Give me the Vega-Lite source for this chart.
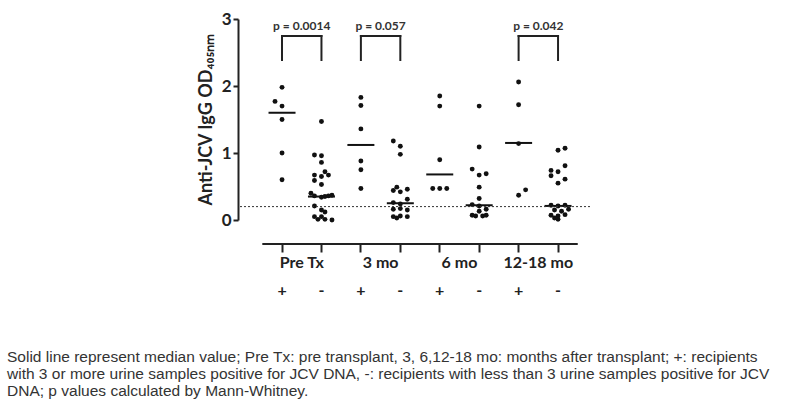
{
  "$schema": "https://vega.github.io/schema/vega-lite/v6.json",
  "width": 352,
  "height": 201,
  "autosize": "none",
  "padding": {"left": 238, "top": 19, "right": 200, "bottom": 188},
  "config": {"view": {"stroke": null}, "font": "Lato"},
  "title": {
    "text": [
      "Solid line represent median value;  Pre Tx: pre transplant,  3, 6,12-18 mo: months  after transplant;  +: recipients",
      "with 3 or more urine samples positive for JCV DNA, -: recipients with less than 3 urine samples positive for JCV",
      "DNA; p values calculated  by Mann-Whitney."
    ],
    "orient": "bottom",
    "anchor": "start",
    "frame": "group",
    "dx": -231,
    "offset": 52,
    "font": "Liberation Sans Narrow, Liberation Sans",
    "fontSize": 15.5,
    "fontWeight": "normal",
    "color": "#333333",
    "lineHeight": 17,
    "baseline": "top"
  },
  "datasets": {
    "points": [
      {"grp": "Pre Tx +", "v": 1.98, "j": 0}, {"grp": "Pre Tx +", "v": 1.77, "j": -2}, {"grp": "Pre Tx +", "v": 1.70, "j": 0},
      {"grp": "Pre Tx +", "v": 1.50, "j": 0}, {"grp": "Pre Tx +", "v": 1.00, "j": 0}, {"grp": "Pre Tx +", "v": 0.60, "j": 0},
      {"grp": "Pre Tx -", "v": 1.47, "j": 0}, {"grp": "Pre Tx -", "v": 0.97, "j": -2}, {"grp": "Pre Tx -", "v": 0.96, "j": 0},
      {"grp": "Pre Tx -", "v": 0.86, "j": 0}, {"grp": "Pre Tx -", "v": 0.72, "j": 1}, {"grp": "Pre Tx -", "v": 0.67, "j": -2},
      {"grp": "Pre Tx -", "v": 0.65, "j": 0}, {"grp": "Pre Tx -", "v": 0.67, "j": 2}, {"grp": "Pre Tx -", "v": 0.59, "j": -2},
      {"grp": "Pre Tx -", "v": 0.53, "j": 0}, {"grp": "Pre Tx -", "v": 0.40, "j": -3}, {"grp": "Pre Tx -", "v": 0.36, "j": -2},
      {"grp": "Pre Tx -", "v": 0.34, "j": 0}, {"grp": "Pre Tx -", "v": 0.35, "j": 1}, {"grp": "Pre Tx -", "v": 0.36, "j": 2},
      {"grp": "Pre Tx -", "v": 0.37, "j": 3}, {"grp": "Pre Tx -", "v": 0.21, "j": -2}, {"grp": "Pre Tx -", "v": 0.15, "j": 0},
      {"grp": "Pre Tx -", "v": 0.12, "j": 1}, {"grp": "Pre Tx -", "v": 0.05, "j": -2}, {"grp": "Pre Tx -", "v": 0.05, "j": 0},
      {"grp": "Pre Tx -", "v": 0.01, "j": -1}, {"grp": "Pre Tx -", "v": 0.01, "j": 1}, {"grp": "Pre Tx -", "v": 0.00, "j": 3},
      {"grp": "3 mo +", "v": 1.83, "j": 0}, {"grp": "3 mo +", "v": 1.71, "j": 0}, {"grp": "3 mo +", "v": 1.36, "j": 0},
      {"grp": "3 mo +", "v": 0.88, "j": 0}, {"grp": "3 mo +", "v": 0.75, "j": 0}, {"grp": "3 mo +", "v": 0.47, "j": 0},
      {"grp": "3 mo -", "v": 1.18, "j": -2}, {"grp": "3 mo -", "v": 1.10, "j": 0}, {"grp": "3 mo -", "v": 0.98, "j": 0},
      {"grp": "3 mo -", "v": 0.44, "j": -2}, {"grp": "3 mo -", "v": 0.49, "j": -1}, {"grp": "3 mo -", "v": 0.42, "j": 0},
      {"grp": "3 mo -", "v": 0.46, "j": 2}, {"grp": "3 mo -", "v": 0.31, "j": 2}, {"grp": "3 mo -", "v": 0.26, "j": -2},
      {"grp": "3 mo -", "v": 0.24, "j": 0}, {"grp": "3 mo -", "v": 0.16, "j": -2}, {"grp": "3 mo -", "v": 0.17, "j": 0},
      {"grp": "3 mo -", "v": 0.15, "j": 2}, {"grp": "3 mo -", "v": 0.05, "j": -2}, {"grp": "3 mo -", "v": 0.03, "j": -1},
      {"grp": "3 mo -", "v": 0.06, "j": 0}, {"grp": "3 mo -", "v": 0.05, "j": 2},
      {"grp": "6 mo +", "v": 1.85, "j": 0}, {"grp": "6 mo +", "v": 1.70, "j": 0}, {"grp": "6 mo +", "v": 0.90, "j": 0},
      {"grp": "6 mo +", "v": 0.47, "j": -2}, {"grp": "6 mo +", "v": 0.47, "j": 0}, {"grp": "6 mo +", "v": 0.47, "j": 2},
      {"grp": "6 mo -", "v": 1.70, "j": 0}, {"grp": "6 mo -", "v": 1.09, "j": 0}, {"grp": "6 mo -", "v": 0.76, "j": -2},
      {"grp": "6 mo -", "v": 0.67, "j": 0}, {"grp": "6 mo -", "v": 0.69, "j": 2}, {"grp": "6 mo -", "v": 0.49, "j": 0},
      {"grp": "6 mo -", "v": 0.32, "j": 0}, {"grp": "6 mo -", "v": 0.23, "j": -2}, {"grp": "6 mo -", "v": 0.21, "j": 0},
      {"grp": "6 mo -", "v": 0.16, "j": 2}, {"grp": "6 mo -", "v": 0.13, "j": 0}, {"grp": "6 mo -", "v": 0.07, "j": -2},
      {"grp": "6 mo -", "v": 0.06, "j": -1}, {"grp": "6 mo -", "v": 0.06, "j": 1}, {"grp": "6 mo -", "v": 0.07, "j": 2},
      {"grp": "12-18 mo +", "v": 2.06, "j": 0}, {"grp": "12-18 mo +", "v": 1.72, "j": 0}, {"grp": "12-18 mo +", "v": 1.14, "j": 0},
      {"grp": "12-18 mo +", "v": 0.37, "j": 0}, {"grp": "12-18 mo +", "v": 0.45, "j": 2},
      {"grp": "12-18 mo -", "v": 1.04, "j": 0}, {"grp": "12-18 mo -", "v": 1.07, "j": 2}, {"grp": "12-18 mo -", "v": 0.81, "j": 2},
      {"grp": "12-18 mo -", "v": 0.74, "j": -2}, {"grp": "12-18 mo -", "v": 0.72, "j": 0}, {"grp": "12-18 mo -", "v": 0.66, "j": -2},
      {"grp": "12-18 mo -", "v": 0.61, "j": 2}, {"grp": "12-18 mo -", "v": 0.55, "j": 0}, {"grp": "12-18 mo -", "v": 0.22, "j": -2},
      {"grp": "12-18 mo -", "v": 0.21, "j": 0}, {"grp": "12-18 mo -", "v": 0.22, "j": 2}, {"grp": "12-18 mo -", "v": 0.15, "j": -1},
      {"grp": "12-18 mo -", "v": 0.13, "j": 1}, {"grp": "12-18 mo -", "v": 0.16, "j": 3}, {"grp": "12-18 mo -", "v": 0.07, "j": -2},
      {"grp": "12-18 mo -", "v": 0.06, "j": 0}, {"grp": "12-18 mo -", "v": 0.08, "j": 2}, {"grp": "12-18 mo -", "v": 0.03, "j": -1},
      {"grp": "12-18 mo -", "v": 0.01, "j": 0}
    ],
    "medians": [
      {"grp": "Pre Tx +", "median": 1.60}, {"grp": "Pre Tx -", "median": 0.35},
      {"grp": "3 mo +", "median": 1.12}, {"grp": "3 mo -", "median": 0.25},
      {"grp": "6 mo +", "median": 0.68}, {"grp": "6 mo -", "median": 0.22},
      {"grp": "12-18 mo +", "median": 1.15}, {"grp": "12-18 mo -", "median": 0.21}
    ],
    "groups": [
      {"time": "Pre Tx", "grp": "Pre Tx +"}, {"time": "3 mo", "grp": "3 mo +"},
      {"time": "6 mo", "grp": "6 mo +"}, {"time": "12-18 mo", "grp": "12-18 mo +"}
    ],
    "brackets": [
      {"p": "p = 0.0014", "a": "Pre Tx +", "b": "Pre Tx -"},
      {"p": "p = 0.057", "a": "3 mo +", "b": "3 mo -"},
      {"p": "p = 0.042", "a": "12-18 mo +", "b": "12-18 mo -"}
    ]
  },
  "layer": [
    {
      "data": {"name": "points"},
      "mark": {"type": "circle", "size": 24, "color": "#111111", "opacity": 1},
      "encoding": {
        "x": {
          "field": "grp", "type": "nominal", "title": null,
          "scale": {
            "domain": ["Pre Tx +", "Pre Tx -", "3 mo +", "3 mo -", "6 mo +", "6 mo -", "12-18 mo +", "12-18 mo -"],
            "paddingInner": 0, "paddingOuter": 0.4636, "align": 0.665
          },
          "axis": {
            "orient": "bottom", "offset": 24, "domain": false, "bandPosition": 0.5,
            "ticks": true, "tickSize": 8, "tickWidth": 2, "tickColor": "#222222",
            "labelExpr": "slice(datum.label, -1)", "labelAngle": 0,
            "labelFont": "Lato", "labelFontWeight": "bold", "labelFontSize": 16, "labelColor": "#222222",
            "labelPadding": 30
          },
          "sort": null
        },
        "xOffset": {"field": "j", "type": "quantitative", "scale": {"domain": [-5.63, 5.63]}},
        "y": {
          "field": "v", "type": "quantitative",
          "scale": {"domain": [0, 3], "nice": false},
          "axis": {
            "title": "Anti-JCV IgG OD₄₀₅ₙₘ", "values": [0, 1, 2, 3], "format": "d", "grid": false,
            "domain": true, "domainWidth": 2, "domainColor": "#222222",
            "tickSize": 5, "tickWidth": 2, "tickColor": "#222222",
            "labelFont": "Lato", "labelFontWeight": "bold", "labelFontSize": 17, "labelColor": "#222222", "labelPadding": 2,
            "titleFont": "Lato", "titleFontWeight": "bold", "titleFontSize": 18, "titleColor": "#222222",
            "titlePadding": 6, "titleY": 100
          }
        }
      }
    },
    {
      "data": {"name": "medians"},
      "mark": {"type": "tick", "size": 27, "thickness": 2, "color": "#111111", "opacity": 1},
      "encoding": {
        "x": {"field": "grp", "type": "nominal"},
        "y": {"field": "median", "type": "quantitative"}
      }
    },
    {
      "data": {"values": [{}]},
      "mark": {"type": "rule", "strokeDash": [2, 2], "strokeWidth": 1, "color": "#333333"},
      "encoding": {"y": {"datum": 0.2}}
    },
    {
      "data": {"values": [{}]},
      "mark": {"type": "rule", "strokeWidth": 2, "color": "#222222"},
      "encoding": {
        "x": {"datum": "Pre Tx +", "bandPosition": 0},
        "x2": {"datum": "12-18 mo -", "bandPosition": 1},
        "y": {"datum": -0.358}
      }
    },
    {
      "data": {"name": "groups"},
      "mark": {"type": "text", "font": "Lato", "fontWeight": "bold", "fontSize": 16, "color": "#222222", "baseline": "middle", "align": "center"},
      "encoding": {
        "x": {"field": "grp", "type": "nominal", "bandPosition": 1},
        "y": {"datum": -0.642},
        "text": {"field": "time"}
      }
    },
    {
      "data": {"name": "brackets"},
      "mark": {"type": "rule", "strokeWidth": 2, "color": "#222222", "strokeCap": "square"},
      "encoding": {
        "x": {"field": "a", "type": "nominal", "bandPosition": 0.5},
        "x2": {"field": "b", "bandPosition": 0.5},
        "y": {"datum": 2.746}
      }
    },
    {
      "data": {"name": "brackets"},
      "transform": [{"fold": ["a", "b"], "as": ["side", "g"]}],
      "mark": {"type": "rule", "strokeWidth": 2, "color": "#222222", "strokeCap": "square"},
      "encoding": {
        "x": {"field": "g", "type": "nominal", "bandPosition": 0.5},
        "y": {"datum": 2.746},
        "y2": {"datum": 2.388}
      }
    },
    {
      "data": {"name": "brackets"},
      "mark": {"type": "text", "font": "Lato", "fontWeight": "bold", "fontSize": 12, "color": "#333333", "baseline": "middle", "align": "center"},
      "encoding": {
        "x": {"field": "a", "type": "nominal", "bandPosition": 1},
        "y": {"datum": 2.9},
        "text": {"field": "p"}
      }
    }
  ]
}
